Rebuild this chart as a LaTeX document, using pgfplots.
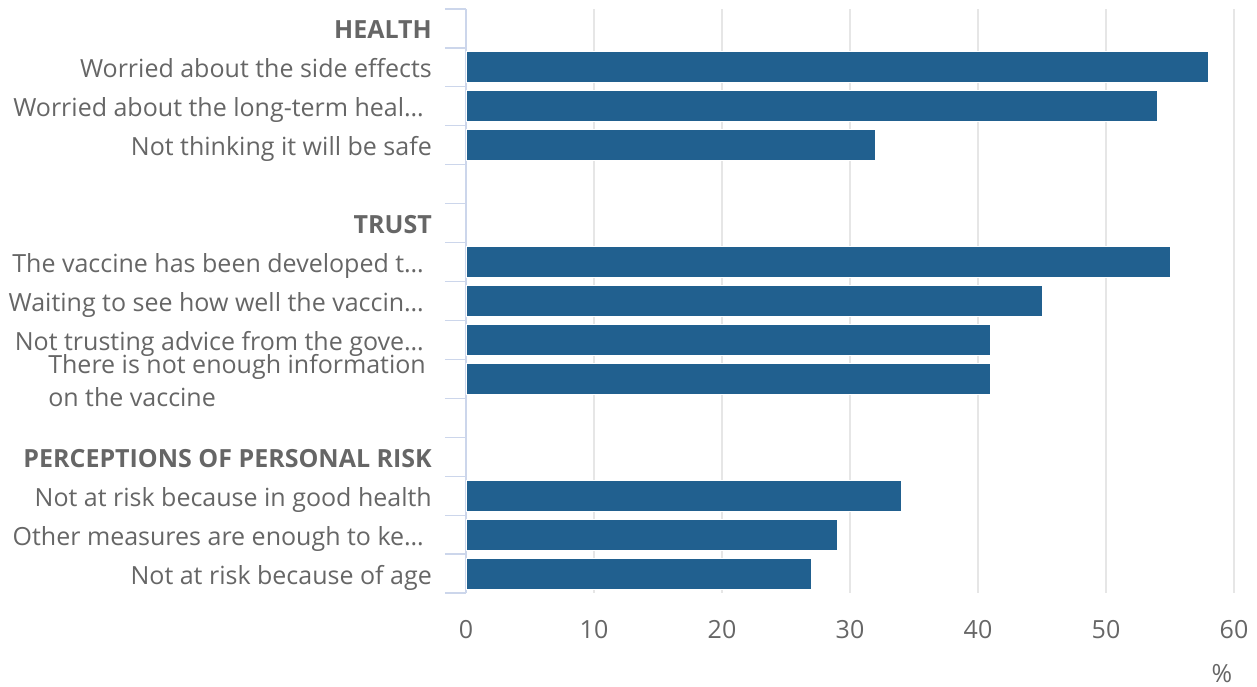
\documentclass[border=0pt]{standalone}
\usepackage{fontspec}
\setmainfont{Open Sans}
\usepackage{pgfplots}
\pgfplotsset{compat=1.18}
\definecolor{barc}{HTML}{21608F}
\definecolor{txt}{HTML}{666666}
\definecolor{gridc}{HTML}{E6E6E6}
\definecolor{axl}{HTML}{CCD6EB}
\begin{document}
\fontsize{25}{33}\selectfont
\begin{tikzpicture}[x=1pt,y=1pt]
\useasboundingbox (0,0) rectangle (1257,686);
\begin{axis}[
  at={(466pt,93pt)}, anchor=south west,
  scale only axis, width=768pt, height=584pt,
  xmin=0, xmax=60, ymin=-0.5, ymax=14.5,
  xtick={0,10,...,60},
  xmajorgrids, grid style={gridc, line width=1.2pt},
  axis x line*=bottom, axis y line*=left,
  x axis line style={draw=none,-},
  y axis line style={axl, line width=1.2pt, -},
  major tick length=0pt,
  tick align=outside,
  ytick={0,...,14},
  minor ytick={-0.5,0.5,...,14.5},
  minor tick length=21pt,
  minor y tick style={axl, line width=1.2pt},
  yticklabels={
    {Not at risk because of age},
    {Other measures are enough to ke…\hspace*{8pt}},
    {Not at risk because in good health},
    {\bfseries PERCEPTIONS OF PERSONAL RISK},
    {},
    {\smash{\begin{tabular}{@{}l@{}}There is not enough information\\on the vaccine\end{tabular}}\hspace*{6pt}},
    {Not trusting advice from the gove…\hspace*{8pt}},
    {Waiting to see how well the vaccin…\hspace*{8pt}},
    {The vaccine has been developed t…\hspace*{8pt}},
    {\bfseries TRUST},
    {},
    {Not thinking it will be safe},
    {Worried about the long-term heal…\hspace*{8pt}},
    {Worried about the side effects},
    {\bfseries HEALTH}},
  yticklabel style={txt, anchor=east, inner sep=0pt, xshift=-34pt, text height=25pt, text depth=4pt},
  xticklabel style={txt, inner sep=0pt, yshift=-27pt},
  /pgf/number format/assume math mode=true,
]
\addplot[xbar, bar width=31pt, fill=barc, draw=white, line width=0.8pt]
  coordinates {(58,13) (54,12) (32,11) (55,8) (45,7) (41,6) (41,5) (34,2) (29,1) (27,0)};
\end{axis}
\node[txt, inner sep=0pt] at (1222,12.5) {\%};
\end{tikzpicture}
\end{document}
